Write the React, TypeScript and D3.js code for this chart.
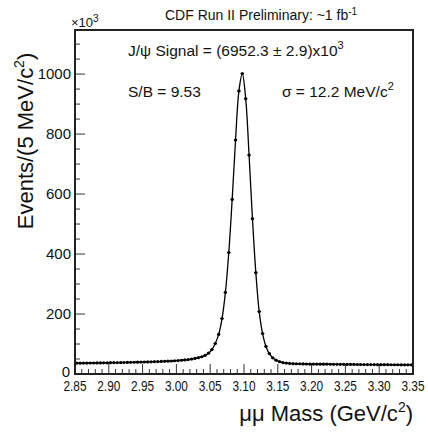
import React from "react";
import * as d3 from "d3";

// bin centres, 5 MeV bins from 2.85 to 3.35 GeV/c^2
const massLo = [2.8525];
const binWidth = 0.005;

// events per bin (x10^3)
const leftTail = [
  36.0, 36.1, 36.3, 36.4, 36.6, 36.7, 36.9, 37.0, 37.2, 37.4,
  37.6, 37.8, 38.0, 38.2, 38.4, 38.6, 38.9, 39.1, 39.4, 39.7,
  40.0, 40.3, 40.6, 41.0, 41.4, 41.8, 42.3, 42.8, 43.4, 44.1,
  44.9, 45.8, 46.9, 48.2, 49.8,
];
const peak = [
  51.8, 54.3, 57.6, 62.0, 69.5, 81.5, 101.5, 132, 185, 272,
  405, 582, 780, 944, 1002, 918, 730, 518, 338, 208,
  135, 92, 68, 54, 46, 41, 38, 36.3, 35.2,
];
const rightTail = [
  34.5, 34.1, 33.8, 33.6, 33.4, 33.2, 33.1, 32.9, 32.8, 32.7,
  32.6, 32.5, 32.4, 32.3, 32.2, 32.1, 32.0, 31.9, 31.8, 31.7,
  31.6, 31.5, 31.5, 31.4, 31.3, 31.2, 31.1, 31.1, 31.0, 30.9,
  30.8, 30.8, 30.7, 30.6, 30.5, 30.5,
];
const counts = [...leftTail, ...peak, ...rightTail];

const xTickLabels = ["2.85", "2.90", "2.95", "3.00", "3.05", "3.10", "3.15", "3.20", "3.25", "3.30", "3.35"];
const yTickLabels = [0, 200, 400, 600, 800, 1000];

const FONT = "'Liberation Sans', Arial, Helvetica, sans-serif";

const left = 75;
const right = 413;
const top = 30;
const bottom = 374;

export default function App() {
  const x = d3.scaleLinear().domain([2.85, 3.35]).range([left, right]);
  const y = d3.scaleLinear().domain([0, 1147]).range([bottom, top]);

  const pts = counts.map((c, i) => ({ m: massLo[0] + i * binWidth, c }));

  const line = d3
    .line<{ m: number; c: number }>()
    .x((d) => x(d.m))
    .y((d) => y(d.c))
    .curve(d3.curveCatmullRom.alpha(0.5));

  const xMinor = d3.range(0, 51).map((i) => 2.85 + i * 0.01);
  const yMinor = d3.range(0, 23).map((i) => i * 50);

  return (
    <svg
      width={428}
      height={432}
      style={{ position: "absolute", left: 0, top: 0, background: "#fff" }}
      fontFamily={FONT}
    >
      <rect x={0} y={0} width={428} height={432} fill="#fff" />

      {/* x ticks */}
      {xMinor.map((v, i) => (
        <line
          key={"xm" + i}
          x1={x(v)}
          x2={x(v)}
          y1={bottom}
          y2={bottom - (i % 5 === 0 ? 10 : 5)}
          stroke="#333"
          strokeWidth={1}
        />
      ))}
      {/* y ticks */}
      {yMinor.map((v, i) => (
        <line
          key={"ym" + i}
          x1={left}
          x2={left + (i % 4 === 0 ? 10 : 5)}
          y1={y(v)}
          y2={y(v)}
          stroke="#333"
          strokeWidth={1}
        />
      ))}

      {/* fit curve */}
      <path d={line(pts) || ""} fill="none" stroke="#000" strokeWidth={1.3} />

      {/* data points */}
      {pts.map((d, i) => (
        <g key={"p" + i}>
          <line
            x1={x(d.m - binWidth / 2)}
            x2={x(d.m + binWidth / 2)}
            y1={y(d.c)}
            y2={y(d.c)}
            stroke="#000"
            strokeWidth={1}
          />
          <circle cx={x(d.m)} cy={y(d.c)} r={1.6} fill="#000" />
        </g>
      ))}

      {/* frame */}
      <rect
        x={left}
        y={top}
        width={right - left}
        height={bottom - top}
        fill="none"
        stroke="#222"
        strokeWidth={2}
      />

      {/* x tick labels */}
      {xTickLabels.map((t) => (
        <text
          key={t}
          x={x(+t)}
          y={391}
          fontSize={14}
          textAnchor="middle"
          textLength={23}
          lengthAdjust="spacingAndGlyphs"
          fill="#111"
        >
          {t}
        </text>
      ))}
      {/* y tick labels */}
      {yTickLabels.map((t) => (
        <text
          key={t}
          x={t === 0 ? 70 : 71}
          y={t === 0 ? y(t) + 3 : y(t) + 5}
          fontSize={15}
          textAnchor="end"
          fill="#111"
        >
          {t}
        </text>
      ))}

      {/* exponent */}
      <text x={71} y={27} fontSize={13} fill="#111">
        ×10<tspan dy={-5} fontSize={10}>3</tspan>
      </text>

      {/* title */}
      <text x={165} y={20} fontSize={14} fill="#111">
        CDF Run II Preliminary: ~1 fb<tspan dy={-5} fontSize={10}>-1</tspan>
      </text>

      {/* annotations */}
      <text x={128} y={56} fontSize={15.5} fill="#111">
        J/ψ Signal = (6952.3 ± 2.9)x10<tspan dy={-7} fontSize={11}>3</tspan>
      </text>
      <text x={128} y={97} fontSize={15.5} fill="#111">
        S/B = 9.53
      </text>
      <text x={282} y={97} fontSize={15.5} fill="#111">
        σ = 12.2 MeV/c<tspan dy={-7} fontSize={11}>2</tspan>
      </text>

      {/* axis titles */}
      <text x={413} y={421} fontSize={22} textAnchor="end" fill="#111">
        μμ Mass (GeV/c<tspan dy={-9} fontSize={14}>2</tspan>
        <tspan dy={9}>)</tspan>
      </text>
      <text
        transform="translate(33,141) rotate(-90)"
        fontSize={22}
        textAnchor="middle"
        fill="#111"
      >
        Events/(5 MeV/c<tspan dy={-9} fontSize={14}>2</tspan>
        <tspan dy={9}>)</tspan>
      </text>
    </svg>
  );
}
